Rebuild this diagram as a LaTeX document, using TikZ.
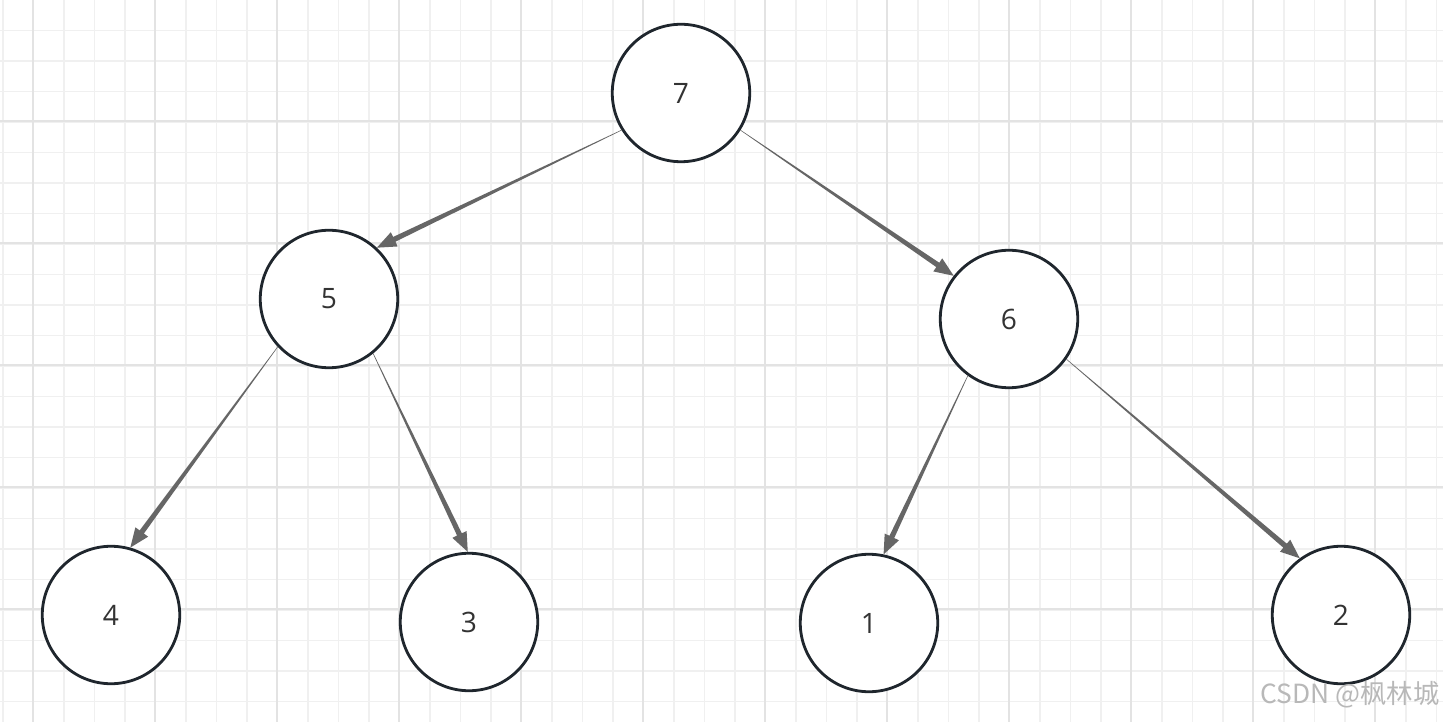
\documentclass[tikz,border=0pt]{standalone}
\usepackage{fontspec}
\setmainfont{Open Sans}
\newfontfamily\cjkfont{Noto Sans CJK SC}
\usetikzlibrary{calc}
\definecolor{minorgrid}{HTML}{F0F0F0}
\definecolor{majorgrid}{HTML}{E3E3E3}
\definecolor{nodeline}{HTML}{1F262D}
\definecolor{edgegray}{HTML}{666666}
% tapered connector with a block head, from node anchor #1 to node anchor #2
\newcommand\heapedge[2]{%
  \coordinate (hs) at (#1); \coordinate (ht) at (#2);
  \coordinate (hb) at ($(ht)!11pt!(hs)$);
  \fill[edgegray] ($(hs)!0.15pt!90:(ht)$) -- ($(hb)!1.5pt!90:(ht)$) -- ($(hb)!4.5pt!90:(ht)$) -- (ht)
    -- ($(hb)!4.5pt!-90:(ht)$) -- ($(hb)!1.5pt!-90:(ht)$) -- ($(hs)!0.15pt!-90:(ht)$) -- cycle;}

\begin{document}
\begin{tikzpicture}[x=0.02cm,y=-0.02cm,
  heapnode/.style={circle,draw=nodeline,line width=1.6pt,fill=white,minimum size=2.75cm,inner sep=0pt,text=black!80,font=\fontsize{16}{19}\selectfont}]
\useasboundingbox (0,0) rectangle (1443,722);
\fill[white] (0,0) rectangle (1443,722);
% grid
\foreach \k in {0,...,47} \draw[minorgrid,line width=0.85pt] ({3+30.5*\k},0)--({3+30.5*\k},722);
\foreach \k in {1,...,23} \draw[minorgrid,line width=0.85pt] (0,{30.5*\k})--(1443,{30.5*\k});
\foreach \k in {0,...,11} \draw[majorgrid,line width=1.1pt] ({33+122*\k},0)--({33+122*\k},722);
\foreach \k in {0,...,4} \draw[majorgrid,line width=1.1pt] (0,{121+122*\k})--(1443,{121+122*\k});
% heap
\node[heapnode] (n7) at (681,93) {7};
\node[heapnode] (n5) at (329,299) {5};
\node[heapnode] (n6) at (1009,319) {6};
\node[heapnode] (n4) at (111,615) {4};
\node[heapnode] (n3) at (469,622) {3};
\node[heapnode] (n1) at (869,623) {1};
\node[heapnode] (n2) at (1341,615) {2};
\heapedge{n7.212}{n5.47}
\heapedge{n7.328}{n6.142}
\heapedge{n5.223}{n4.74}
\heapedge{n5.309}{n3.91}
\heapedge{n6.234}{n1.78}
\heapedge{n6.325}{n2.126}
\node[anchor=east,inner sep=0pt,text=black!28,font=\cjkfont\fontsize{15}{18}\selectfont] (mark) at (1440,695) {CSDN @枫林城};
\end{tikzpicture}
\end{document}
